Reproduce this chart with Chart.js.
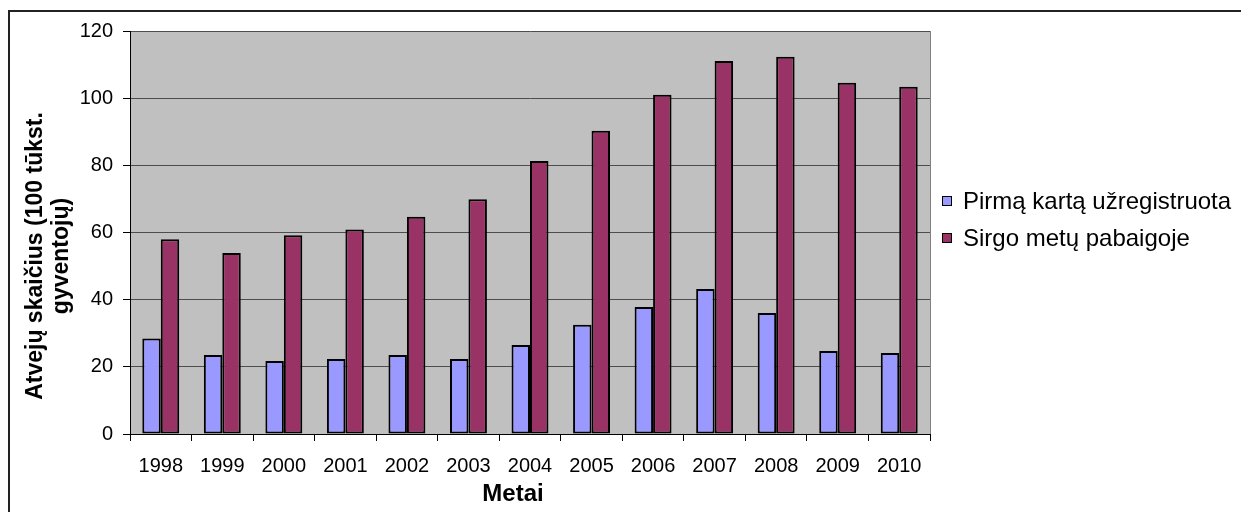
<!DOCTYPE html>
<html>
<head>
<meta charset="utf-8">
<script src="https://cdn.jsdelivr.net/npm/chart.js@4/dist/chart.umd.min.js"></script>
<style>
  html, body { margin: 0; padding: 0; background: #ffffff; }
  #chart { display: block; }
</style>
</head>
<body>
<canvas id="chart" width="1241" height="512"></canvas>
<script>
// Years on the category axis
const years = ['1998', '1999', '2000', '2001', '2002', '2003', '2004',
               '2005', '2006', '2007', '2008', '2009', '2010'];

// Newly registered cases per 100 thousand residents
const firstRegistered = [28.4, 23.5, 21.7, 22.3, 23.5, 22.3, 26.5,
                         32.5, 37.8, 43.2, 36.0, 24.7, 24.1];

// Patients at the end of the year per 100 thousand residents
const atYearEnd = [58.0, 53.9, 59.2, 60.9, 64.7, 69.9, 81.3,
                   90.3, 101.0, 111.1, 112.3, 104.6, 103.4];

const seriesNames = ['Pirmą kartą užregistruota', 'Sirgo metų pabaigoje'];
const yTitleLines = ['Atvejų skaičius (100 tūkst.', 'gyventojų)'];
const xTitle = 'Metai';

const FONT = '"Liberation Sans", Arial, sans-serif';

// Frame, plot background, axis titles and legend
const decorations = {
  id: 'decorations',
  beforeDraw(chart) {
    const { ctx, chartArea: a } = chart;
    ctx.save();
    // outer frame (runs off the right and bottom edges)
    ctx.strokeStyle = '#222222';
    ctx.lineWidth = 2;
    ctx.strokeRect(9, 11, 1400, 700);
    // plot area fill
    ctx.fillStyle = '#c0c0c0';
    ctx.fillRect(a.left, a.top, a.right - a.left, a.bottom - a.top);
    ctx.restore();
  },
  afterDraw(chart) {
    const { ctx, chartArea: a } = chart;
    ctx.save();
    // right edge of the plot area
    ctx.strokeStyle = '#808080';
    ctx.lineWidth = 1;
    ctx.beginPath();
    ctx.moveTo(a.right + 0.5, a.top);
    ctx.lineTo(a.right + 0.5, a.bottom);
    ctx.stroke();

    // x-axis title
    ctx.fillStyle = '#000000';
    ctx.font = 'bold 24px ' + FONT;
    ctx.textAlign = 'center';
    ctx.textBaseline = 'middle';
    ctx.fillText(xTitle, 513, 494);

    // y-axis title, two centred lines
    ctx.font = 'bold 23px ' + FONT;
    ctx.translate(36, 256);
    ctx.rotate(-Math.PI / 2);
    yTitleLines.forEach((line, i) => ctx.fillText(line, 0, i * 26));
    ctx.restore();

    // legend
    ctx.save();
    ctx.font = '24px ' + FONT;
    ctx.textAlign = 'left';
    ctx.textBaseline = 'middle';
    chart.data.datasets.forEach((ds, i) => {
      const y = 201 + i * 37;
      ctx.fillStyle = ds.backgroundColor;
      ctx.fillRect(942, y - 5, 10, 10);
      ctx.strokeStyle = '#000000';
      ctx.lineWidth = 1;
      ctx.strokeRect(942.5, y - 4.5, 9, 9);
      ctx.fillStyle = '#000000';
      ctx.fillText(ds.label, 963, y + 1);
    });
    ctx.restore();
  }
};

new Chart(document.getElementById('chart'), {
  type: 'bar',
  data: {
    labels: years,
    datasets: [
      {
        label: seriesNames[0],
        data: firstRegistered,
        backgroundColor: '#9999ff',
        borderColor: '#000000',
        borderWidth: 2,
        borderSkipped: false
      },
      {
        label: seriesNames[1],
        data: atYearEnd,
        backgroundColor: '#993366',
        borderColor: '#000000',
        borderWidth: 2,
        borderSkipped: false
      }
    ]
  },
  options: {
    responsive: false,
    animation: false,
    devicePixelRatio: 1,
    layout: { padding: { top: 31, right: 311, bottom: 0, left: 0 } },
    datasets: {
      bar: { categoryPercentage: 0.6, barPercentage: 1.0 }
    },
    plugins: {
      legend: { display: false },
      tooltip: { enabled: false }
    },
    scales: {
      x: {
        grid: {
          offset: true,
          drawOnChartArea: false,
          drawTicks: true,
          tickLength: 7,
          tickColor: '#000000'
        },
        border: { color: '#000000', width: 1 },
        ticks: {
          color: '#000000',
          font: { family: FONT, size: 20 },
          padding: 13,
          maxRotation: 0,
          autoSkip: false
        },
        afterFit(scale) { scale.height = 78; }
      },
      y: {
        min: 0,
        max: 120,
        ticks: {
          stepSize: 20,
          color: '#000000',
          font: { family: FONT, size: 20 },
          padding: 10
        },
        grid: {
          color: '#4d4d4d',
          lineWidth: 1,
          tickLength: 7,
          tickColor: '#000000'
        },
        border: { color: '#000000', width: 1 },
        afterFit(scale) { scale.width = 130; }
      }
    }
  },
  plugins: [decorations]
});
</script>
</body>
</html>
